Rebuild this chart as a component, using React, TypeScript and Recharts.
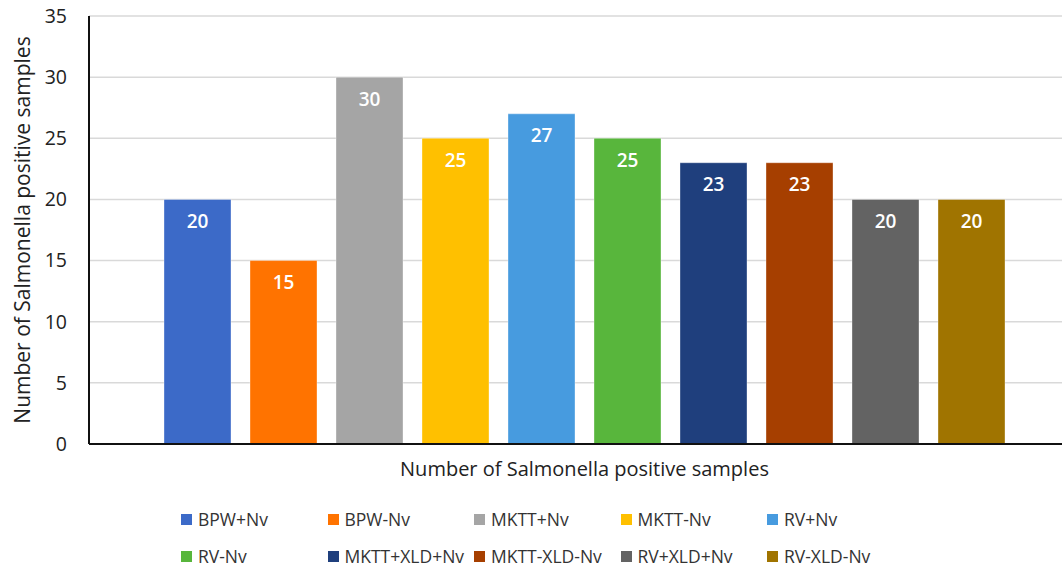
import React from "react";
import {
  BarChart,
  Bar,
  XAxis,
  YAxis,
  CartesianGrid,
  Legend,
  LabelList,
} from "recharts";

const CATEGORY = "Number of Salmonella positive samples";

const SERIES = [
  "BPW+Nv",
  "BPW-Nv",
  "MKTT+Nv",
  "MKTT-Nv",
  "RV+Nv",
  "RV-Nv",
  "MKTT+XLD+Nv",
  "MKTT-XLD-Nv",
  "RV+XLD+Nv",
  "RV-XLD-Nv",
];

const VALUES = [20, 15, 30, 25, 27, 25, 23, 23, 20, 20];

const COLORS = [
  "#3C6AC8",
  "#FF7300",
  "#A5A5A5",
  "#FFC000",
  "#479BDF",
  "#58B63C",
  "#1F3F7D",
  "#A63F00",
  "#636363",
  "#A07400",
];

const Y_TICKS = [0, 5, 10, 15, 20, 25, 30, 35];

const FONT = "'Open Sans', sans-serif";

// one category row, one key per series
const row: Record<string, string | number> = { name: CATEGORY };
SERIES.forEach((s, i) => {
  row[s] = VALUES[i];
});
const data = [row];

function LegendBox() {
  return (
    <div style={{ position: "relative", width: 1062, height: 80, fontFamily: FONT }}>
      {SERIES.map((s, i) => {
        const col = i % 5;
        const r = Math.floor(i / 5);
        return (
          <div
            key={s}
            style={{
              position: "absolute",
              left: 181 + col * 146.5,
              top: 21 + r * 37,
              display: "flex",
              alignItems: "center",
              whiteSpace: "nowrap",
            }}
          >
            <span
              style={{
                display: "inline-block",
                width: 11,
                height: 11,
                background: COLORS[i],
                marginRight: 6,
              }}
            />
            <span style={{ fontSize: 17.5, color: "#333", lineHeight: "17px" }}>{s}</span>
          </div>
        );
      })}
    </div>
  );
}

export default function App() {
  return (
    <div
      style={{
        position: "fixed",
        left: 0,
        top: 0,
        width: 1062,
        height: 570,
        overflow: "hidden",
        background: "#fff",
      }}
    >
      <BarChart
        width={1080}
        height={570}
        data={data}
        margin={{ top: 16, right: 0, left: 0, bottom: 0 }}
        barCategoryGap={75}
        barGap={19}
      >
        <CartesianGrid vertical={false} stroke="#d9d9d9" strokeWidth={1.5} />
        <XAxis
          dataKey="name"
          height={46}
          tickLine={false}
          tickSize={0}
          tickMargin={18}
          axisLine={{ stroke: "#111", strokeWidth: 2 }}
          tick={{ fontSize: 20, fill: "#222", fontFamily: FONT }}
        />
        <YAxis
          width={89}
          domain={[0, 35]}
          ticks={Y_TICKS}
          interval={0}
          tickLine={false}
          tickSize={0}
          tickMargin={22}
          axisLine={{ stroke: "#111", strokeWidth: 2 }}
          tick={{ fontSize: 19.5, fill: "#222", fontFamily: FONT }}
          label={{
            content: () => (
              <text
                x={22}
                y={230}
                transform="rotate(-90 22 230)"
                textAnchor="middle"
                dominantBaseline="central"
                fontSize={21}
                fill="#222"
                fontFamily={FONT}
              >
                {CATEGORY}
              </text>
            ),
          }}
        />
        <Legend
          content={() => <LegendBox />}
          wrapperStyle={{ left: 0, top: 490, width: 1062, height: 80 }}
        />
        {SERIES.map((s, i) => (
          <Bar
            key={s}
            dataKey={s}
            fill={COLORS[i]}
            stroke="rgba(255,255,255,0.35)"
            isAnimationActive={false}
          >
            <LabelList
              dataKey={s}
              position="insideTop"
              offset={15}
              fill="#fff"
              fontSize={19}
              fontWeight={600}
              fontFamily={FONT}
            />
          </Bar>
        ))}
      </BarChart>
    </div>
  );
}
